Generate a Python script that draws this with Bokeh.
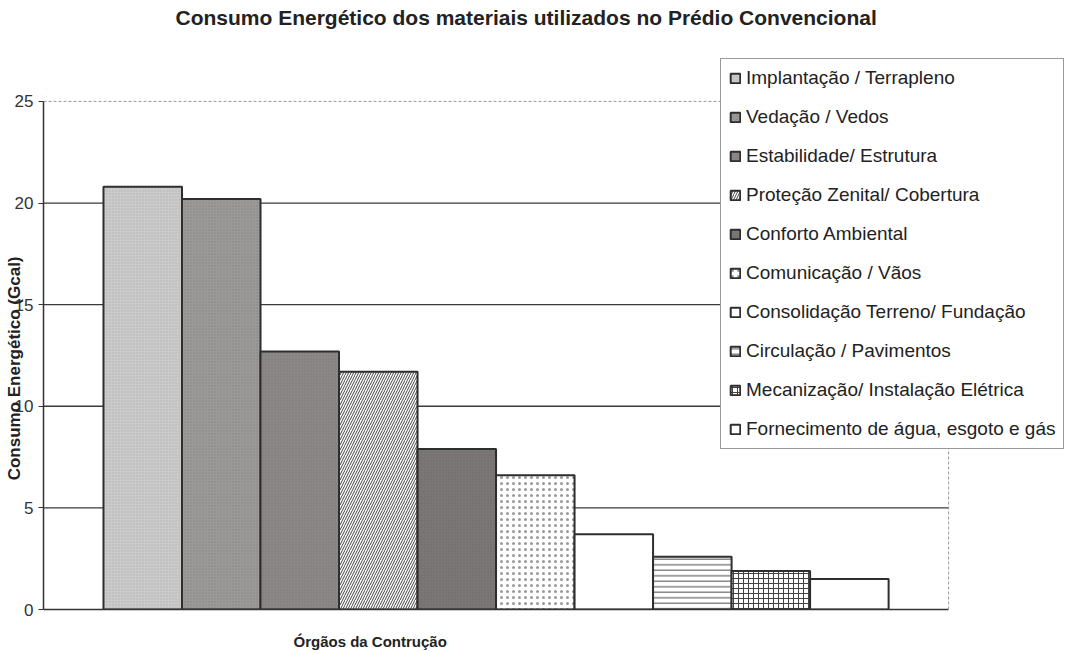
from bokeh.plotting import figure
from bokeh.models import ColumnDataSource, Range1d, FixedTicker, Title
from bokeh.embed import file_html
from bokeh.resources import INLINE

# Energy use of the building parts (Gcal)
orgaos = [
    "Implantação / Terrapleno",
    "Vedação / Vedos",
    "Estabilidade/ Estrutura",
    "Proteção Zenital/ Cobertura",
    "Conforto Ambiental",
    "Comunicação / Vãos",
    "Consolidação Terreno/ Fundação",
    "Circulação / Pavimentos",
    "Mecanização/ Instalação Elétrica",
    "Fornecimento de água, esgoto e gás",
]
consumo = [20.8, 20.2, 12.7, 11.7, 7.9, 6.6, 3.7, 2.6, 1.9, 1.5]
y_ticks = [0, 5, 10, 15, 20, 25]

# Fill styles, one per bar (grey tones and black-and-white hatches)
fills = ["#cbcbcb", "#9c9999", "#8c8888", "#ffffff", "#7b7777",
         "#ffffff", "#ffffff", "#ffffff", "#ffffff", "#ffffff"]
hatches = ["dot", "dot", "dot", "right_diagonal_line", "dot",
           "dot", " ", "horizontal_line", "cross", " "]
hatch_colors = ["#939393", "#6e6c6c", "#6a6666", "#444444", "#5a5656",
                "#999999", "#ffffff", "#444444", "#444444", "#ffffff"]
hatch_scales = [3, 3, 3, 5, 3, 6, 6, 5.5, 5, 6]
hatch_alphas = [0.45, 0.45, 0.45, 1.0, 0.45, 1.0, 0.0, 1.0, 1.0, 0.0]

source = ColumnDataSource(dict(
    x=list(range(len(orgaos))),
    top=consumo,
    orgao=orgaos,
    fill=fills,
    hatch=hatches,
    hcolor=hatch_colors,
    hscale=hatch_scales,
    halpha=hatch_alphas,
))

FONT = "Liberation Sans"
NBSP = "\u00a0"

n = len(orgaos)
pad = 0.764                       # space between outer bars and plot border
x_start = -0.5 - pad
x_border = n - 0.5 + pad          # right border of the plot area
x_end = x_border + 1.54           # room on the right for the legend
y_top = 25
y_end = 27.21                     # room above the plot area for the legend

p = figure(
    width=1069, height=653,
    x_range=Range1d(x_start, x_end),
    y_range=Range1d(0, y_end),
    output_backend="svg", toolbar_location=None,
    min_border_left=43, min_border_right=0,
    min_border_top=56, min_border_bottom=44,
)
p.background_fill_color = "white"
p.border_fill_color = "white"
p.outline_line_color = None
p.xgrid.grid_line_color = None
p.ygrid.grid_line_color = None

# Horizontal grid lines inside the plot area
grid_y = y_ticks[1:-1]
p.segment(x0=[x_start] * len(grid_y), x1=[x_border] * len(grid_y),
          y0=grid_y, y1=grid_y, line_color="#3a3a3a", line_width=1.3)

# Plot-area border: light dotted top and right
p.segment(x0=[x_start, x_border], x1=[x_border, x_border],
          y0=[y_top, 0], y1=[y_top, y_top],
          line_color="#9a9a9a", line_width=1, line_dash="3 2")

p.vbar(
    x="x", top="top", width=1.0, source=source,
    fill_color="fill", line_color="#2e2e2e", line_width=2,
    hatch_pattern="hatch", hatch_color="hcolor", hatch_scale="hscale",
    hatch_alpha="halpha", hatch_weight=1,
    legend_field="orgao",
)

# Title (a blank second line lifts it towards the top edge)
p.title.text = "Consumo Energético dos materiais utilizados no Prédio Convencional\n" + NBSP
p.title.text_font = FONT
p.title.text_font_size = "21px"
p.title.text_font_style = "bold"
p.title.text_color = "#222222"
p.title.text_line_height = 1.2
p.title.align = "left"
p.title.offset = 132
p.title.standoff = 0

# Y axis (label padded at its end so it sits lower along the axis)
p.yaxis.ticker = FixedTicker(ticks=y_ticks)
p.yaxis.bounds = (0, y_top)
p.yaxis.axis_label = "Consumo Energético (Gcal)" + NBSP * 15
p.yaxis.axis_label_text_font = FONT
p.yaxis.axis_label_text_font_size = "17px"
p.yaxis.axis_label_text_font_style = "bold"
p.yaxis.axis_label_text_color = "#222222"
p.yaxis.axis_label_standoff = -12
p.yaxis.major_label_text_font = FONT
p.yaxis.major_label_text_font_size = "17px"
p.yaxis.major_label_text_color = "#333333"
p.yaxis.major_label_standoff = 5
p.yaxis.major_tick_out = 5
p.yaxis.major_tick_in = 0
p.yaxis.minor_tick_line_color = None
p.yaxis.axis_line_color = "#333333"
p.yaxis.axis_line_width = 1.5
p.yaxis.major_tick_line_color = "#333333"

# X axis: only the base line
p.xaxis.ticker = FixedTicker(ticks=[])
p.xaxis.bounds = (x_start, x_border)
p.xaxis.major_label_text_font_size = "0px"
p.xaxis.major_label_standoff = 0
p.xaxis.major_tick_out = 0
p.xaxis.axis_line_color = "#333333"
p.xaxis.axis_line_width = 1.5
p.xaxis.major_tick_line_color = None
p.xaxis.minor_tick_line_color = None

# X-axis title (a blank first line pushes it down)
p.add_layout(Title(text=NBSP + "\nÓrgãos da Contrução", align="left", offset=250,
                   text_font=FONT, text_font_size="15px", text_font_style="bold",
                   text_color="#222222", text_line_height=1.1, standoff=6), "below")

# Legend
lg = p.legend[0]
lg.location = (677, 160)
lg.border_line_color = "#333333"
lg.border_line_width = 1
lg.background_fill_color = "white"
lg.background_fill_alpha = 1.0
lg.label_text_font = FONT
lg.label_text_font_size = "19px"
lg.label_text_color = "#222222"
lg.glyph_width = 12
lg.glyph_height = 12
lg.label_standoff = 5
lg.label_height = 22
lg.spacing = 17
lg.padding = 8
lg.margin = 0

open("out.html", "w").write(file_html(p, INLINE))
